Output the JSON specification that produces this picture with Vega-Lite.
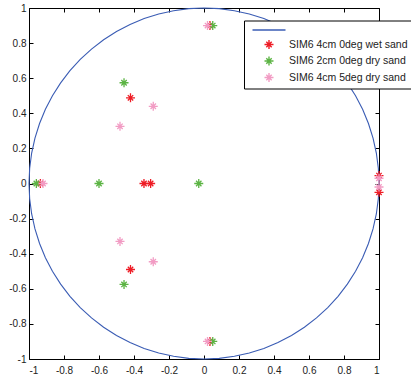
{
  "$schema": "https://vega.github.io/schema/vega-lite/v6.json",
  "width": 350,
  "height": 351,
  "autosize": {"type": "none"},
  "padding": {"left": 29, "top": 8, "right": 32, "bottom": 19},
  "background": "white",
  "config": {
    "view": {"stroke": "black", "strokeWidth": 1},
    "font": "Liberation Sans",
    "axis": {
      "grid": false,
      "domain": false,
      "tickColor": "black",
      "tickSize": -4,
      "tickWidth": 1,
      "labelFont": "Liberation Sans",
      "labelFontSize": 10,
      "labelColor": "#222222",
      "title": null
    }
  },
  "datasets": {
    "circle": [
      {"series": "unit circle", "i": 0, "x": 1, "y": 0},
      {"series": "unit circle", "i": 1, "x": 0.9962, "y": 0.0872},
      {"series": "unit circle", "i": 2, "x": 0.9848, "y": 0.1736},
      {"series": "unit circle", "i": 3, "x": 0.9659, "y": 0.2588},
      {"series": "unit circle", "i": 4, "x": 0.9397, "y": 0.342},
      {"series": "unit circle", "i": 5, "x": 0.9063, "y": 0.4226},
      {"series": "unit circle", "i": 6, "x": 0.866, "y": 0.5},
      {"series": "unit circle", "i": 7, "x": 0.8192, "y": 0.5736},
      {"series": "unit circle", "i": 8, "x": 0.766, "y": 0.6428},
      {"series": "unit circle", "i": 9, "x": 0.7071, "y": 0.7071},
      {"series": "unit circle", "i": 10, "x": 0.6428, "y": 0.766},
      {"series": "unit circle", "i": 11, "x": 0.5736, "y": 0.8192},
      {"series": "unit circle", "i": 12, "x": 0.5, "y": 0.866},
      {"series": "unit circle", "i": 13, "x": 0.4226, "y": 0.9063},
      {"series": "unit circle", "i": 14, "x": 0.342, "y": 0.9397},
      {"series": "unit circle", "i": 15, "x": 0.2588, "y": 0.9659},
      {"series": "unit circle", "i": 16, "x": 0.1736, "y": 0.9848},
      {"series": "unit circle", "i": 17, "x": 0.0872, "y": 0.9962},
      {"series": "unit circle", "i": 18, "x": 0, "y": 1},
      {"series": "unit circle", "i": 19, "x": -0.0872, "y": 0.9962},
      {"series": "unit circle", "i": 20, "x": -0.1736, "y": 0.9848},
      {"series": "unit circle", "i": 21, "x": -0.2588, "y": 0.9659},
      {"series": "unit circle", "i": 22, "x": -0.342, "y": 0.9397},
      {"series": "unit circle", "i": 23, "x": -0.4226, "y": 0.9063},
      {"series": "unit circle", "i": 24, "x": -0.5, "y": 0.866},
      {"series": "unit circle", "i": 25, "x": -0.5736, "y": 0.8192},
      {"series": "unit circle", "i": 26, "x": -0.6428, "y": 0.766},
      {"series": "unit circle", "i": 27, "x": -0.7071, "y": 0.7071},
      {"series": "unit circle", "i": 28, "x": -0.766, "y": 0.6428},
      {"series": "unit circle", "i": 29, "x": -0.8192, "y": 0.5736},
      {"series": "unit circle", "i": 30, "x": -0.866, "y": 0.5},
      {"series": "unit circle", "i": 31, "x": -0.9063, "y": 0.4226},
      {"series": "unit circle", "i": 32, "x": -0.9397, "y": 0.342},
      {"series": "unit circle", "i": 33, "x": -0.9659, "y": 0.2588},
      {"series": "unit circle", "i": 34, "x": -0.9848, "y": 0.1736},
      {"series": "unit circle", "i": 35, "x": -0.9962, "y": 0.0872},
      {"series": "unit circle", "i": 36, "x": -1, "y": 0},
      {"series": "unit circle", "i": 37, "x": -0.9962, "y": -0.0872},
      {"series": "unit circle", "i": 38, "x": -0.9848, "y": -0.1736},
      {"series": "unit circle", "i": 39, "x": -0.9659, "y": -0.2588},
      {"series": "unit circle", "i": 40, "x": -0.9397, "y": -0.342},
      {"series": "unit circle", "i": 41, "x": -0.9063, "y": -0.4226},
      {"series": "unit circle", "i": 42, "x": -0.866, "y": -0.5},
      {"series": "unit circle", "i": 43, "x": -0.8192, "y": -0.5736},
      {"series": "unit circle", "i": 44, "x": -0.766, "y": -0.6428},
      {"series": "unit circle", "i": 45, "x": -0.7071, "y": -0.7071},
      {"series": "unit circle", "i": 46, "x": -0.6428, "y": -0.766},
      {"series": "unit circle", "i": 47, "x": -0.5736, "y": -0.8192},
      {"series": "unit circle", "i": 48, "x": -0.5, "y": -0.866},
      {"series": "unit circle", "i": 49, "x": -0.4226, "y": -0.9063},
      {"series": "unit circle", "i": 50, "x": -0.342, "y": -0.9397},
      {"series": "unit circle", "i": 51, "x": -0.2588, "y": -0.9659},
      {"series": "unit circle", "i": 52, "x": -0.1736, "y": -0.9848},
      {"series": "unit circle", "i": 53, "x": -0.0872, "y": -0.9962},
      {"series": "unit circle", "i": 54, "x": 0, "y": -1},
      {"series": "unit circle", "i": 55, "x": 0.0872, "y": -0.9962},
      {"series": "unit circle", "i": 56, "x": 0.1736, "y": -0.9848},
      {"series": "unit circle", "i": 57, "x": 0.2588, "y": -0.9659},
      {"series": "unit circle", "i": 58, "x": 0.342, "y": -0.9397},
      {"series": "unit circle", "i": 59, "x": 0.4226, "y": -0.9063},
      {"series": "unit circle", "i": 60, "x": 0.5, "y": -0.866},
      {"series": "unit circle", "i": 61, "x": 0.5736, "y": -0.8192},
      {"series": "unit circle", "i": 62, "x": 0.6428, "y": -0.766},
      {"series": "unit circle", "i": 63, "x": 0.7071, "y": -0.7071},
      {"series": "unit circle", "i": 64, "x": 0.766, "y": -0.6428},
      {"series": "unit circle", "i": 65, "x": 0.8192, "y": -0.5736},
      {"series": "unit circle", "i": 66, "x": 0.866, "y": -0.5},
      {"series": "unit circle", "i": 67, "x": 0.9063, "y": -0.4226},
      {"series": "unit circle", "i": 68, "x": 0.9397, "y": -0.342},
      {"series": "unit circle", "i": 69, "x": 0.9659, "y": -0.2588},
      {"series": "unit circle", "i": 70, "x": 0.9848, "y": -0.1736},
      {"series": "unit circle", "i": 71, "x": 0.9962, "y": -0.0872},
      {"series": "unit circle", "i": 72, "x": 1, "y": 0}
    ],
    "poles": [
      {"series": "SIM6 4cm 0deg wet sand", "x": -0.343, "y": 0},
      {"series": "SIM6 4cm 0deg wet sand", "x": -0.305, "y": 0},
      {"series": "SIM6 4cm 0deg wet sand", "x": -0.42, "y": 0.488},
      {"series": "SIM6 4cm 0deg wet sand", "x": -0.42, "y": -0.49},
      {"series": "SIM6 4cm 0deg wet sand", "x": 0.034, "y": 0.9},
      {"series": "SIM6 4cm 0deg wet sand", "x": 0.034, "y": -0.9},
      {"series": "SIM6 4cm 0deg wet sand", "x": -0.935, "y": 0},
      {"series": "SIM6 4cm 0deg wet sand", "x": 1, "y": 0.045},
      {"series": "SIM6 4cm 0deg wet sand", "x": 1, "y": -0.05},
      {"series": "SIM6 2cm 0deg dry sand", "x": -0.958, "y": 0},
      {"series": "SIM6 2cm 0deg dry sand", "x": -0.6, "y": 0},
      {"series": "SIM6 2cm 0deg dry sand", "x": -0.03, "y": 0},
      {"series": "SIM6 2cm 0deg dry sand", "x": -0.457, "y": 0.574},
      {"series": "SIM6 2cm 0deg dry sand", "x": -0.457, "y": -0.575},
      {"series": "SIM6 2cm 0deg dry sand", "x": 0.05, "y": 0.9},
      {"series": "SIM6 2cm 0deg dry sand", "x": 0.05, "y": -0.9},
      {"series": "SIM6 4cm 5deg dry sand", "x": -0.92, "y": 0},
      {"series": "SIM6 4cm 5deg dry sand", "x": -0.29, "y": 0.44},
      {"series": "SIM6 4cm 5deg dry sand", "x": -0.29, "y": -0.446},
      {"series": "SIM6 4cm 5deg dry sand", "x": -0.48, "y": 0.326},
      {"series": "SIM6 4cm 5deg dry sand", "x": -0.48, "y": -0.33},
      {"series": "SIM6 4cm 5deg dry sand", "x": 0.02, "y": 0.9},
      {"series": "SIM6 4cm 5deg dry sand", "x": 0.02, "y": -0.9},
      {"series": "SIM6 4cm 5deg dry sand", "x": 1, "y": 0.03},
      {"series": "SIM6 4cm 5deg dry sand", "x": 1, "y": -0.02}
    ]
  },
  "layer": [
    {
      "data": {"name": "circle"},
      "mark": {"type": "line", "strokeWidth": 1.1, "clip": false},
      "encoding": {
        "x": {
          "field": "x", "type": "quantitative",
          "scale": {"domain": [-1, 1], "nice": false, "zero": false},
          "axis": {"orient": "top", "labels": false, "values": [-1, -0.8, -0.6, -0.4, -0.2, 0, 0.2, 0.4, 0.6, 0.8, 1]}
        },
        "y": {
          "field": "y", "type": "quantitative",
          "scale": {"domain": [-1, 1], "nice": false, "zero": false},
          "axis": {"orient": "right", "labels": false, "values": [-1, -0.8, -0.6, -0.4, -0.2, 0, 0.2, 0.4, 0.6, 0.8, 1]}
        },
        "order": {"field": "i", "type": "quantitative"},
        "color": {"field": "series", "type": "nominal"}
      }
    },
    {
      "data": {"name": "poles"},
      "mark": {"type": "point", "filled": false, "strokeWidth": 1.3, "opacity": 1, "clip": false},
      "encoding": {
        "x": {
          "field": "x", "type": "quantitative",
          "axis": {
            "orient": "bottom",
            "values": [-1, -0.8, -0.6, -0.4, -0.2, 0, 0.2, 0.4, 0.6, 0.8, 1],
            "format": "~g",
            "labelPadding": 10,
            "labelExpr": "replace(datum.label, '\u2212', '-')"
          }
        },
        "y": {
          "field": "y", "type": "quantitative",
          "axis": {
            "orient": "left",
            "values": [-1, -0.8, -0.6, -0.4, -0.2, 0, 0.2, 0.4, 0.6, 0.8, 1],
            "format": "~g",
            "labelPadding": 7,
            "labelExpr": "replace(datum.label, '\u2212', '-')"
          }
        },
        "color": {
          "field": "series", "type": "nominal",
          "scale": {
            "domain": ["unit circle", "SIM6 4cm 0deg wet sand", "SIM6 2cm 0deg dry sand", "SIM6 4cm 5deg dry sand"],
            "range": ["#3a5cb4", "#ee1c25", "#5cb444", "#f29cc4"]
          },
          "legend": {
            "title": null,
            "orient": "none",
            "legendX": 215,
            "legendY": 12.5,
            "fillColor": "white",
            "strokeColor": "black",
            "padding": 3,
            "rowPadding": 1.5,
            "symbolOffset": 15.5,
            "labelOffset": 13.5,
            "labelFont": "Liberation Sans",
            "labelFontSize": 10.5,
            "labelColor": "#222222",
            "symbolStrokeWidth": 1.4,
            "labelExpr": "datum.label == 'unit circle' ? '' : datum.label"
          }
        },
        "shape": {
          "field": "series", "type": "nominal",
          "scale": {
            "domain": ["unit circle", "SIM6 4cm 0deg wet sand", "SIM6 2cm 0deg dry sand", "SIM6 4cm 5deg dry sand"],
            "range": ["M-3,0L3,0",
              "M-1,0L1,0M0,-1L0,1M-0.6,-0.6L0.6,0.6M-0.6,0.6L0.6,-0.6",
              "M-1,0L1,0M0,-1L0,1M-0.6,-0.6L0.6,0.6M-0.6,0.6L0.6,-0.6",
              "M-1,0L1,0M0,-1L0,1M-0.6,-0.6L0.6,0.6M-0.6,0.6L0.6,-0.6"]
          }
        },
        "size": {
          "field": "series", "type": "nominal",
          "scale": {
            "type": "ordinal",
            "domain": ["unit circle", "SIM6 4cm 0deg wet sand", "SIM6 2cm 0deg dry sand", "SIM6 4cm 5deg dry sand"],
            "range": [121, 81, 81, 81]
          }
        }
      }
    }
  ],
  "resolve": {"axis": {"x": "independent", "y": "independent"}}
}
